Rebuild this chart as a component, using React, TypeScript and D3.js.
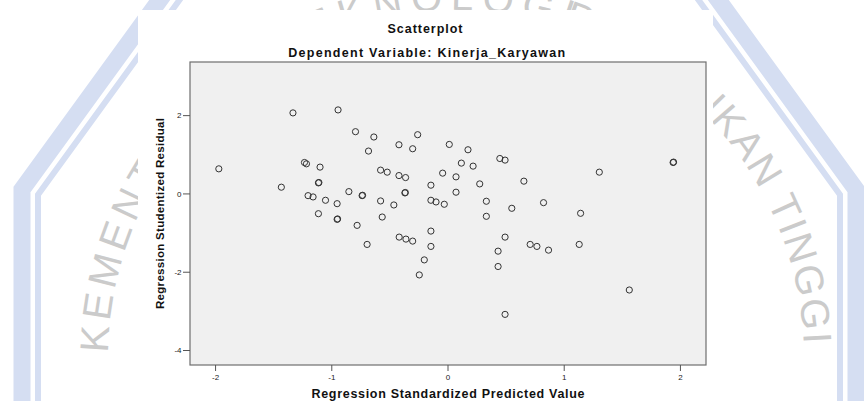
import React from "react";
import * as d3 from "d3";

// Regression Standardized Predicted Value (x) and Studentized Residual (y)
const predicted = [
  -1.334, -0.946, -0.796, -0.638, -0.261, -0.684, -0.422, -0.304, -1.972, -1.235,
  -1.218, -1.101, -0.58, -0.523, -0.422, -0.365, -1.434, -1.115, -1.111, -0.853,
  -0.739, -0.735, -0.371, -0.367, -0.147, -1.204, -1.161, -1.054, -0.954, -0.58,
  -0.466, -0.147, -0.103, -1.115, -0.954, -0.95, -0.566, -0.782, -0.147, -0.696,
  -0.42, -0.362, -0.304, -0.147, -0.204, -0.247, 0.011, 0.172, 0.446, 0.491,
  0.115, 0.216, -0.046, 0.069, 1.302, 1.937, 1.941, 0.273, 0.653, 0.069,
  -0.032, 0.33, 0.549, 0.822, 0.33, 1.141, 0.491, 0.431, 0.431, 0.707,
  0.765, 0.865, 1.129, 1.56, 0.491,
];
const residual = [
  2.07, 2.146, 1.59, 1.454, 1.513, 1.095, 1.256, 1.154, 0.641, 0.803,
  0.769, 0.685, 0.608, 0.556, 0.469, 0.418, 0.172, 0.282, 0.292, 0.059,
  -0.044, -0.034, 0.026, 0.036, 0.223, -0.044, -0.077, -0.162, -0.249, -0.179,
  -0.282, -0.162, -0.205, -0.505, -0.649, -0.639, -0.59, -0.803, -0.949, -1.29,
  -1.103, -1.154, -1.205, -1.341, -1.685, -2.069, 1.264, 1.128, 0.905, 0.864,
  0.787, 0.71, 0.531, 0.436, 0.556, 0.803, 0.813, 0.256, 0.326, 0.044,
  -0.264, -0.187, -0.367, -0.223, -0.572, -0.495, -1.103, -1.462, -1.854, -1.29,
  -1.341, -1.436, -1.29, -2.454, -3.077,
];
const xTicks = [-2, -1, 0, 1, 2];
const yTicks = [2, 0, -2, -4];

const title = "Scatterplot";
const subtitle = "Dependent Variable: Kinerja_Karyawan";
const xTitle = "Regression Standardized Predicted Value";
const yTitle = "Regression Studentized Residual";

// faint logo watermark behind the chart
const ringWords = ["KEMENTERIAN", "TEKNOLOGI", "PENDIDIKAN TINGGI"];

const W = 864;
const H = 401;
const margin = { top: 62, right: 158, bottom: 36, left: 190 };
const font = "'Liberation Sans', Arial, sans-serif";

const Watermark = () => {
  const cx = 439;
  const cy = 325;
  const band = (apothem: number) => {
    const r = apothem / Math.cos(Math.PI / 10);
    const line = d3
      .lineRadial<number>()
      .angle((d) => d)
      .radius(r)
      .curve(d3.curveLinearClosed);
    return line(d3.range(10).map((i) => (i * Math.PI) / 5)) || "";
  };

  const tx = 456;
  const ty = 358;
  const tr = 348;
  const a0 = (165 * Math.PI) / 180;
  const a1 = (375 * Math.PI) / 180;
  const p = d3.path();
  p.moveTo(tx + tr * Math.cos(a0), ty + tr * Math.sin(a0));
  p.arc(tx, ty, tr, a0, a1, false);
  const perDeg = (Math.PI / 180) * tr;

  const textStyle = {
    fontFamily: font,
    fontSize: 40,
    fill: "#cbcbcb",
  };

  return (
    <g>
      <g transform={`translate(${cx},${cy})`} fill="none" stroke="#d5def2">
        <path d={band(417)} strokeWidth={17} />
        <path d={band(401)} strokeWidth={6} />
      </g>
      <defs>
        <path id="ring" d={p.toString()} />
      </defs>
      <text style={textStyle} letterSpacing={5}>
        <textPath href="#ring" startOffset={96}>
          {ringWords[0]}
        </textPath>
      </text>
      <text style={textStyle} letterSpacing={8} textAnchor="middle">
        <textPath href="#ring" startOffset={100 * perDeg}>
          {ringWords[1]}
        </textPath>
      </text>
      <text style={textStyle} letterSpacing={2} textAnchor="end">
        <textPath href="#ring" startOffset={193 * perDeg}>
          {ringWords[2]}
        </textPath>
      </text>
    </g>
  );
};

const App = () => {
  const x = d3
    .scaleLinear()
    .domain([-2.22, 2.22])
    .range([margin.left, W - margin.right]);
  const y = d3
    .scaleLinear()
    .domain([3.37, -4.37])
    .range([margin.top, H - margin.bottom]);

  const [x0, x1] = x.range();
  const [y0, y1] = y.range();
  const points = predicted.map((d, i) => [d, residual[i]]);

  return (
    <svg
      width={W}
      height={H}
      style={{ position: "absolute", left: 0, top: 0, background: "#fff" }}
    >
      <Watermark />
      <rect x={138} y={10} width={575} height={H - 10} fill="#fff" />

      <text
        x={425}
        y={32.7}
        textAnchor="middle"
        fontFamily={font}
        fontWeight="bold"
        fontSize={12.5}
        textLength={75}
        lengthAdjust="spacing"
        fill="#111"
      >
        {title}
      </text>
      <text
        x={426.7}
        y={56.7}
        textAnchor="middle"
        fontFamily={font}
        fontWeight="bold"
        fontSize={12.5}
        textLength={277}
        lengthAdjust="spacing"
        fill="#111"
      >
        {subtitle}
      </text>

      <rect
        x={x0}
        y={y0}
        width={x1 - x0}
        height={y1 - y0}
        fill="#f0f0f0"
        stroke="#6e6e6e"
        strokeWidth={1.2}
      />

      {yTicks.map((t) => (
        <g key={`y${t}`}>
          <line x1={x0 - 7} x2={x0} y1={y(t)} y2={y(t)} stroke="#555" />
          <text
            x={x0 - 8.5}
            y={y(t)}
            dy="0.35em"
            textAnchor="end"
            fontFamily={font}
            fontSize={8}
            fill="#222"
          >
            {t}
          </text>
        </g>
      ))}
      {xTicks.map((t) => (
        <g key={`x${t}`}>
          <line x1={x(t)} x2={x(t)} y1={y1} y2={y1 + 6} stroke="#555" />
          <text
            x={x(t)}
            y={379.5}
            textAnchor="middle"
            fontFamily={font}
            fontSize={8}
            fill="#222"
          >
            {t}
          </text>
        </g>
      ))}

      {points.map(([px, py], i) => (
        <circle
          key={i}
          cx={x(px)}
          cy={y(py)}
          r={3.1}
          fill="none"
          stroke="#333"
          strokeWidth={1}
        />
      ))}

      <text
        x={(x0 + x1) / 2}
        y={398.3}
        textAnchor="middle"
        fontFamily={font}
        fontWeight="bold"
        fontSize={12.5}
        textLength={273}
        lengthAdjust="spacing"
        fill="#111"
      >
        {xTitle}
      </text>
      <text
        transform={`translate(164,${(y0 + y1) / 2}) rotate(-90)`}
        textAnchor="middle"
        fontFamily={font}
        fontWeight="bold"
        fontSize={11.5}
        textLength={191}
        lengthAdjust="spacing"
        fill="#111"
      >
        {yTitle}
      </text>
    </svg>
  );
};

export default App;
